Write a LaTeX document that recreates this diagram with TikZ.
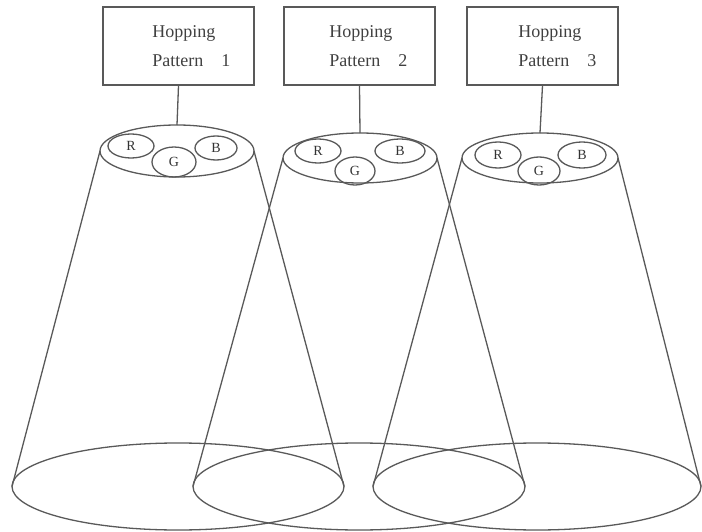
\documentclass[tikz,border=0pt]{standalone}
\usepackage{fontspec}
\setmainfont{Liberation Serif}
\usetikzlibrary{shapes.geometric}

\tikzset{pbox/.style={draw,line width=1.5pt,black!65,minimum width=151pt,minimum height=78pt,inner sep=0pt}}
\tikzset{ptext/.style={anchor=west,align=left,inner sep=0pt,font=\fontsize{18}{29}\selectfont,text=black!75}}
\tikzset{ring/.style={draw,ellipse,line width=1.3pt,black!65,inner sep=0pt,outer sep=0pt}}
\tikzset{dot/.style={ring,font=\fontsize{14}{16}\selectfont,text=black!80}}
\tikzset{side/.style={line width=1.3pt,black!65}}

\begin{document}
\begin{tikzpicture}[x=1pt,y=-1pt]
        \useasboundingbox (0,0) rectangle (702,532);
        % draw the pattern boxes
        \node[pbox] (box1) at (178.5,46) {};
        \node[ptext] (txt1) at ([xshift=50pt]box1.west) {Hopping\\Pattern\quad 1};
        \node[pbox] (box2) at (359.5,46) {};
        \node[ptext] (txt2) at ([xshift=46pt]box2.west) {Hopping\\Pattern\quad 2};
        \node[pbox] (box3) at (542.5,46) {};
        \node[ptext] (txt3) at ([xshift=52pt]box3.west) {Hopping\\Pattern\quad 3};

        % draw the cone tops
        \node[ring,minimum width=154pt,minimum height=52pt] (top1) at (177,151) {};
        \node[ring,minimum width=154pt,minimum height=50pt] (top2) at (360,158) {};
        \node[ring,minimum width=156pt,minimum height=50pt] (top3) at (540,158) {};

        % draw the colour cells
        \node[dot,minimum width=46pt,minimum height=24pt] (r1) at (131,146) {R};
        \node[dot,minimum width=44pt,minimum height=30pt] (g1) at (174,162) {G};
        \node[dot,minimum width=42pt,minimum height=24pt] (b1) at (216,148) {B};
        \node[dot,minimum width=46pt,minimum height=24pt] (r2) at (318,151) {R};
        \node[dot,minimum width=40pt,minimum height=28pt] (g2) at (355,171) {G};
        \node[dot,minimum width=50pt,minimum height=24pt] (b2) at (400,151) {B};
        \node[dot,minimum width=46pt,minimum height=26pt] (r3) at (498,155) {R};
        \node[dot,minimum width=42pt,minimum height=28pt] (g3) at (539,171) {G};
        \node[dot,minimum width=48pt,minimum height=26pt] (b3) at (582,155) {B};

        % draw the cone bottoms
        \node[ring,minimum width=332pt,minimum height=87pt] (bot1) at (178,486.5) {};
        \node[ring,minimum width=332pt,minimum height=87pt] (bot2) at (359,486.5) {};
        \node[ring,minimum width=328pt,minimum height=87pt] (bot3) at (537,486.5) {};

        % connect boxes to cones
        \draw[side] (box1.south) -- (top1.north);
        \draw[side] (box2.south) -- (top2.north);
        \draw[side] (box3.south) -- (top3.north);

        % draw the cone sides
        \draw[side] (top1.west) -- (bot1.west);
        \draw[side] (top1.east) -- (bot1.east);
        \draw[side] (top2.west) -- (bot2.west);
        \draw[side] (top2.east) -- (bot2.east);
        \draw[side] (top3.west) -- (bot3.west);
        \draw[side] (top3.east) -- (bot3.east);
\end{tikzpicture}
\end{document}
